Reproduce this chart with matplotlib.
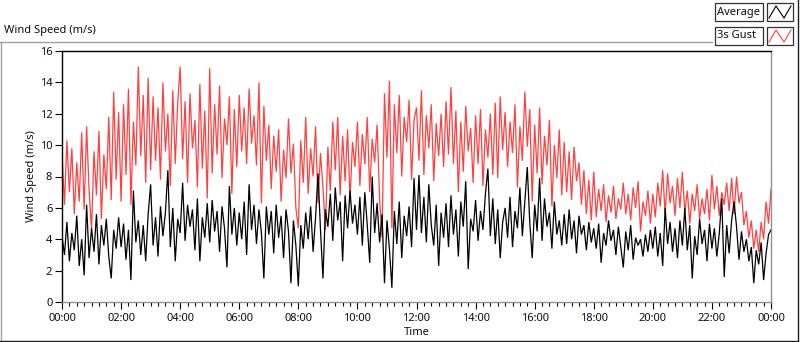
import matplotlib
matplotlib.use("Agg")
import matplotlib.pyplot as plt
from matplotlib.lines import Line2D
from matplotlib.patches import Rectangle
import numpy as np

plt.rcParams['font.family'] = ['Noto Sans', 'DejaVu Sans']

# ---- data: 5-minute samples, 00:00 .. 24:00 ----
gust = [
    9.5, 6.2, 10.3, 7.0, 9.8, 5.6, 8.9, 6.4, 10.8, 5.9, 11.2, 7.1,
    4.6, 9.6, 6.8, 10.9, 5.3, 9.4, 7.2, 11.8, 6.5, 13.4, 7.8, 12.1,
    6.4, 12.6, 8.1, 13.6, 6.2, 11.5, 8.7, 15.0, 9.3, 13.2, 7.6, 14.3,
    8.4, 13.1, 9.0, 12.4, 7.8, 14.0, 9.6, 12.0, 7.4, 13.5, 8.8, 12.7,
    15.0, 9.1, 12.8, 7.6, 13.3, 9.8, 11.6, 7.3, 13.9, 8.5, 12.2, 6.6,
    14.9, 8.2, 12.6, 9.4, 13.8, 7.9, 11.7, 10.0, 13.1, 6.9, 12.3, 8.6,
    13.2, 9.6, 12.4, 8.8, 13.6, 10.1, 11.9, 8.7, 14.0, 6.3, 12.5, 9.0,
    11.3, 7.2, 10.6, 8.3, 11.0, 6.4, 9.7, 7.9, 11.7, 8.2, 10.1, 6.0,
    4.7, 10.3, 7.6, 11.8, 6.9, 9.8, 8.0, 11.2, 6.3, 9.5, 7.3, 4.6,
    9.9, 7.1, 11.5, 8.4, 11.8, 6.8, 10.6, 7.7, 11.0, 6.5, 10.2, 8.6,
    11.5, 7.4, 10.7, 8.8, 11.8, 7.0, 10.4, 8.9, 11.3, 6.6, 4.1, 13.3,
    9.2, 14.1, 4.7, 12.6, 9.5, 13.2, 8.0, 11.8, 10.2, 12.9, 7.8, 11.6,
    12.4, 9.0, 13.5, 8.1, 11.9, 9.8, 12.6, 7.7, 11.4, 9.3, 12.0, 8.6,
    12.8, 9.4, 13.7, 8.8, 12.2, 7.0, 11.5, 8.3, 12.5, 9.6, 11.1, 7.6,
    11.9, 8.8, 12.3, 7.4, 11.0, 9.2, 12.0, 8.1, 12.7, 7.9, 13.1, 9.7,
    12.1, 8.6, 11.5, 9.5, 12.6, 7.3, 11.2, 9.0, 13.4, 9.9, 12.3, 6.4,
    11.3, 8.2, 12.4, 7.5, 10.6, 8.7, 11.6, 6.1, 10.0, 7.9, 11.0, 6.8,
    10.2, 7.0, 9.6, 6.5, 9.9, 7.7, 8.9, 6.2, 8.4, 5.6, 7.8, 5.2,
    8.3, 5.4, 7.2, 5.8, 7.5, 5.1, 6.8, 5.7, 7.4, 5.3, 6.6, 5.9,
    7.6, 5.6, 6.9, 5.2, 7.3, 6.0, 7.7, 4.5, 6.4, 5.5, 7.1, 5.0,
    6.9, 5.4, 7.6, 6.1, 8.4, 5.6, 8.2, 6.3, 7.4, 5.5, 7.9, 6.0,
    8.3, 5.7, 7.1, 5.0, 6.9, 5.8, 7.5, 5.3, 6.6, 5.6, 7.2, 5.2,
    8.1, 5.9, 7.4, 5.5, 7.0, 6.2, 7.6, 5.8, 7.9, 5.6, 8.0, 6.3,
    7.0, 4.9, 5.8, 4.1, 5.2, 3.4, 4.6, 3.2, 5.1, 4.0, 6.4, 5.0, 7.2,
]

average = [
    4.2, 3.0, 5.1, 2.6, 4.4, 3.3, 5.5, 2.3, 4.0, 1.7, 6.2, 2.8,
    4.7, 3.2, 5.6, 2.4, 4.9, 3.6, 5.3, 2.9, 1.5, 4.6, 3.4, 5.4,
    3.5, 5.0, 2.7, 4.6, 1.4, 7.1, 3.8, 5.2, 3.0, 4.9, 2.6, 5.6,
    7.5, 3.6, 5.4, 2.9, 6.1, 4.2, 5.7, 8.4, 3.5, 6.0, 2.6, 5.3,
    4.4, 7.6, 3.9, 6.2, 4.8, 5.9, 3.3, 6.6, 2.6, 5.4, 4.1, 6.3,
    3.8, 6.5, 4.5, 5.8, 3.2, 6.1, 4.7, 2.2, 7.4, 4.3, 6.0, 3.6,
    5.7, 4.0, 6.4, 3.0, 7.5, 4.6, 6.2, 3.7, 5.9, 4.4, 1.5, 6.1,
    4.3, 5.8, 3.1, 6.2, 4.1, 5.5, 2.8, 5.9, 4.5, 1.2, 5.2, 3.6,
    1.0, 4.9, 3.4, 5.7, 4.0, 6.1, 3.2, 5.4, 8.2, 4.6, 1.5, 5.9,
    4.8, 6.9, 3.9, 7.3, 5.2, 6.4, 2.6, 6.8, 4.7, 7.1, 5.0, 6.2,
    4.3, 6.7, 3.6, 7.0, 4.9, 2.5, 8.0, 4.4, 6.3, 3.8, 5.6, 1.2,
    5.2, 3.4, 0.9, 5.8, 3.7, 6.4, 2.8, 5.5, 4.2, 6.1, 3.5, 7.9,
    4.6, 8.1, 4.4, 6.7, 3.8, 7.5, 4.9, 3.6, 6.2, 2.3, 5.7, 4.1,
    6.3, 3.5, 6.8, 4.3, 5.9, 2.9, 6.4, 4.8, 7.7, 2.1, 5.3, 4.5,
    6.5, 3.9, 5.8, 4.6, 6.9, 8.5, 4.2, 6.6, 3.7, 5.9, 2.8, 5.1,
    6.0, 4.1, 6.7, 3.5, 5.8, 4.7, 7.3, 4.2, 6.4, 8.6, 5.1, 2.8,
    6.2, 4.5, 7.9, 3.9, 6.6, 4.8, 5.7, 3.4, 6.4, 4.3, 5.2, 3.6,
    5.6, 3.7, 5.9, 4.0, 5.2, 3.1, 5.5, 4.3, 4.9, 3.3, 5.1, 3.8,
    4.7, 3.4, 5.0, 2.5, 4.4, 3.6, 5.2, 3.9, 4.6, 3.0, 4.8, 3.5,
    2.2, 4.5, 3.3, 4.9, 2.7, 4.1, 3.6, 4.0, 2.9, 4.3, 3.2, 4.6,
    3.4, 4.8, 2.9, 4.4, 2.3, 6.0, 3.7, 5.1, 3.2, 4.7, 2.8, 5.2,
    3.6, 6.0, 3.3, 4.9, 1.5, 4.2, 3.0, 5.3, 3.7, 4.6, 2.6, 5.0,
    3.4, 4.7, 2.9, 4.4, 6.6, 1.6, 4.9, 3.1, 5.2, 6.4, 4.8, 2.7,
    4.5, 3.2, 4.0, 2.6, 3.5, 1.2, 3.3, 2.4, 3.8, 1.4, 3.1, 4.3, 4.6,
]

sample_minutes = 5
x_tick_hours = list(range(0, 25, 2))
x_tick_labels = ["%02d:00" % (h % 24) for h in x_tick_hours]
y_ticks = list(range(0, 17, 2))

hours = np.arange(len(gust)) * sample_minutes / 60.0

# ---- figure ----
W, H = 800, 342
fig = plt.figure(figsize=(W / 100, H / 100), dpi=100, facecolor="white")

def fx(px):
    return px / W

def fy(py):
    return 1 - py / H

TXT = "#0a0a20"
FS = 8

L, R, T, B = 62, 771, 51, 302
ax = fig.add_axes([fx(L), fy(B), fx(R - L), fy(T) - fy(B)])
ax.set_facecolor("white")

ax.plot(hours, gust, color="#ff4040", lw=0.9, solid_joinstyle="miter")
ax.plot(hours, average, color="black", lw=0.9, solid_joinstyle="miter")

ax.set_xlim(0, 24)
ax.set_ylim(0, 16)
ax.set_xticks(x_tick_hours)
ax.set_xticklabels(x_tick_labels)
ax.set_xticks(np.arange(0, 24.01, 0.25), minor=True)
ax.set_yticks(y_ticks)

ax.tick_params(axis="x", which="major", length=5, width=0.8, direction="out",
               labelsize=FS, pad=3, color="black", labelcolor=TXT)
ax.tick_params(axis="x", which="minor", length=3, width=0.8, direction="out",
               color="black")
ax.tick_params(axis="y", which="major", length=5, width=0.8, direction="out",
               labelsize=FS, pad=2, color="black", labelcolor=TXT)

for side in ("left", "top"):
    ax.spines[side].set_color("black")
    ax.spines[side].set_linewidth(1.0)
for side in ("right", "bottom"):
    ax.spines[side].set_color("#909090")
    ax.spines[side].set_linewidth(1.0)

ax.set_xlabel("Time", fontsize=FS, labelpad=2, color=TXT)
ax.set_ylabel("Wind Speed (m/s)", fontsize=FS, labelpad=2, color=TXT)

# ---- outer frame ----
fig.add_artist(Line2D([fx(0), fx(712)], [fy(42), fy(42)], color="#a0a0a0", lw=1))
fig.add_artist(Line2D([fx(0.5), fx(0.5)], [fy(42), fy(341)], color="#a0a0a0", lw=1))
fig.add_artist(Line2D([fx(0), fx(798)], [fy(341), fy(341)], color="#202020", lw=1))
fig.add_artist(Line2D([fx(798), fx(798)], [fy(0), fy(341)], color="#202020", lw=1))

fig.text(fx(4), fy(31), "Wind Speed (m/s)", fontsize=FS, va="center", ha="left",
         color=TXT)

# ---- legend ----
legend_names = ["Average", "3s Gust"]
legend_colors = ["black", "#ff4040"]
rows = [(3, 21), (27, 45)]
for (y0, y1), name, col in zip(rows, legend_names, legend_colors):
    fig.add_artist(Rectangle((fx(715), fy(y1)), fx(763 - 715), fy(y0) - fy(y1),
                             transform=fig.transFigure, facecolor="white",
                             edgecolor="#303030", lw=0.9))
    fig.text(fx(717), fy((y0 + y1) / 2), name, fontsize=FS, va="center",
             ha="left", color=TXT)
    fig.add_artist(Rectangle((fx(767), fy(y1)), fx(793 - 767), fy(y0) - fy(y1),
                             transform=fig.transFigure, facecolor="white",
                             edgecolor="#303030", lw=0.9))
    zx = [769, 776, 784, 791]
    zy = [y1 - 3, y0 + 3, y1 - 3, y0 + 3]
    fig.add_artist(Line2D([fx(v) for v in zx], [fy(v) for v in zy], color=col, lw=0.8))

fig.savefig("out.png", dpi=100, facecolor="white")
